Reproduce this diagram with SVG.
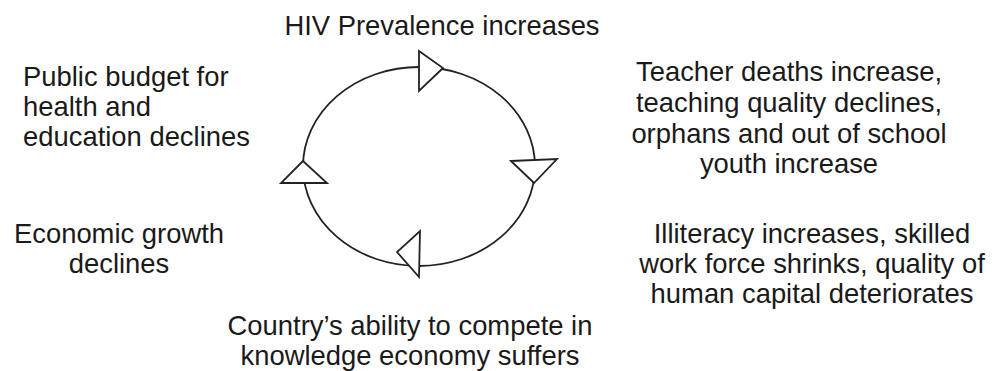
<svg xmlns="http://www.w3.org/2000/svg" width="995" height="371" viewBox="0 0 995 371">
<style>
text{font-family:"Liberation Sans",Arial,sans-serif;font-size:27.4px;fill:#1a1a1a}
.c{text-anchor:middle}
.loop{fill:none;stroke:#222;stroke-width:1.8}
.arr{fill:#fff;stroke:#222;stroke-width:1.8;stroke-linejoin:miter}
</style>
<rect width="995" height="371" fill="#fff"/>
<g id="connectors">
<ellipse class="loop" cx="419" cy="166.5" rx="116" ry="99.5"/>
<polygon class="arr" points="419,51 419,91 443,68"/>
<polygon class="arr" points="511,161 557,159 534,183"/>
<polygon class="arr" points="420,231 419,277 397,252"/>
<polygon class="arr" points="303,161 281,183 327,183"/>
</g>
<g id="hiv"><text class="c" x="442" y="35">HIV Prevalence increases</text></g>
<g id="teacher">
<text class="c" x="789" y="81">Teacher deaths increase,</text>
<text class="c" x="789" y="112">teaching quality declines,</text>
<text class="c" x="789" y="143">orphans and out of school</text>
<text class="c" x="789" y="173">youth increase</text>
</g>
<g id="illiteracy">
<text class="c" x="812" y="243">Illiteracy increases, skilled</text>
<text class="c" x="812" y="273">work force shrinks, quality of</text>
<text class="c" x="812" y="303">human capital deteriorates</text>
</g>
<g id="country">
<text class="c" x="410" y="335">Country’s ability to compete in</text>
<text class="c" x="410" y="365">knowledge economy suffers</text>
</g>
<g id="economic">
<text class="c" x="119" y="243">Economic growth</text>
<text class="c" x="119" y="273">declines</text>
</g>
<g id="budget">
<text x="23" y="86">Public budget for</text>
<text x="23" y="116">health and</text>
<text x="23" y="146">education declines</text>
</g>
</svg>
